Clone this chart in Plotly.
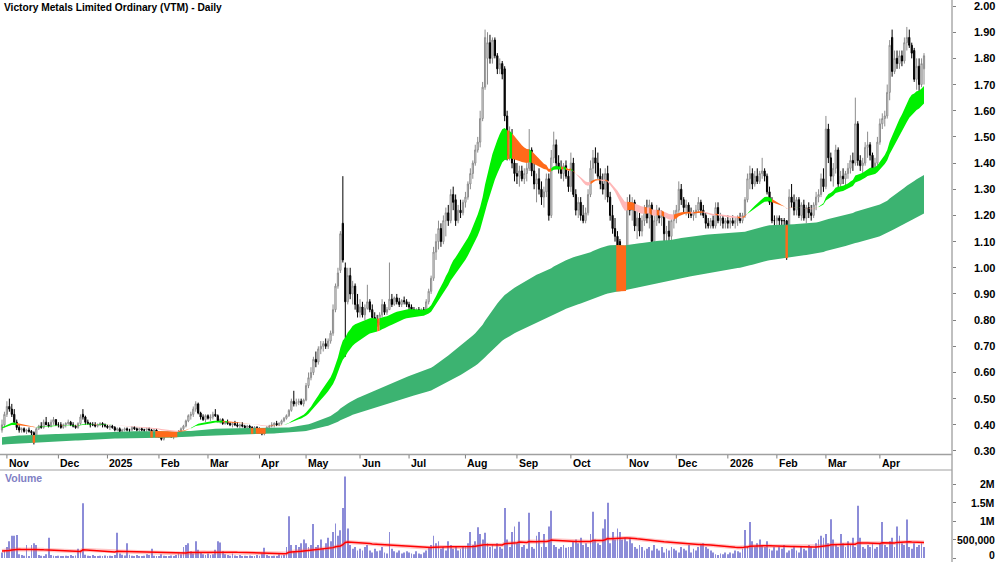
import numpy as np
import pandas as pd
import plotly.graph_objects as go

TITLE = "Victory Metals Limited Ordinary (VTM) - Daily"
START_DATE = "2024-10-30"
END_DATE = "2026-04-29"
ASX_HOLIDAYS = ["2024-12-25", "2024-12-26", "2025-01-01", "2025-01-27", "2025-04-18",
                "2025-04-21", "2025-04-25", "2025-06-09", "2025-12-25", "2025-12-26",
                "2026-01-01", "2026-01-26", "2026-04-03", "2026-04-06"]

OPEN = [
    .38, .40, .44, .47, .46, .44, .41, .39, .38, .385, .375, .38, .375, .37, .36, .385, .395, .39, .41, .40, .395, .41, .42,
    .40, .40, .39, .40, .405, .41, .40, .395, .39, .405, .44, .43, .41, .405, .40, .40, .395, .40, .405, .40,
    .395, .39, .395, .39, .38, .385, .375, .38, .385, .38, .38, .39, .385, .38, .385, .38, .38, .385, .38, .375, .38,
    .37, .355, .345, .36, .365, .36, .355, .36, .365, .375, .385, .395, .415, .435, .44, .46, .48, .445, .43, .42,
    .435, .425, .43, .44, .435, .415, .42, .405, .41, .405, .40, .405, .40, .395, .40, .395, .39, .395, .39, .385, .39,
    .385, .375, .365, .38, .39, .395, .40, .405, .40, .405, .415, .425, .435, .455, .49, .48, .485, .49, .48,
    .495, .55, .58, .60, .65, .64, .69, .70, .71, .70, .72, .75, .84, .93, .99, 1.17, 1.00, .87, .97, .90, .93, .86,
    .83, .85, .82, .845, .87, .84, .81, .80, .79, .82, .86, .83, .84, .88, .86, .885, .87, .86, .875, .87,
    .86, .85, .84, .83, .84, .83, .84, .835, .87, .91, .96, 1.06, 1.10, 1.15, 1.10, 1.18, 1.21, 1.18, 1.28, 1.26, 1.18, 1.22, 1.21,
    1.25, 1.27, 1.32, 1.36, 1.40, 1.45, 1.48, 1.57, 1.69, 1.80, 1.86, 1.80, 1.87, 1.81, 1.76, 1.78, 1.76, 1.58, 1.43, 1.50, 1.40,
    1.36, 1.35, 1.37, 1.34, 1.36, 1.38, 1.45, 1.37, 1.32, 1.34, 1.30, 1.27, 1.29, 1.34, 1.20, 1.42, 1.47, 1.40, 1.38, 1.36, 1.39, 1.35,
    1.31, 1.40, 1.28, 1.22, 1.25, 1.20, 1.18, 1.21, 1.28, 1.38, 1.42, 1.40, 1.35, 1.32, 1.30, 1.36, 1.27, 1.20, 1.15, 1.12, 1.10, 1.02, 1.00,
    1.05, 1.24, 1.22, 1.25, 1.16, 1.19, 1.14, 1.18, 1.22, 1.19, 1.24, 1.10, 1.18, 1.22, 1.19, 1.20, 1.13, 1.14, 1.12, 1.18,
    1.20, 1.22, 1.30, 1.26, 1.23, 1.24, 1.21, 1.20, 1.21, 1.22, 1.25, 1.22, 1.20, 1.17, 1.16, 1.18, 1.16, 1.23, 1.18, 1.19, 1.17,
    1.18, 1.17, 1.18, 1.17, 1.18, 1.19, 1.18, 1.20, 1.26, 1.34, 1.36, 1.32, 1.35, 1.33, 1.36, 1.37, 1.35, 1.29, 1.25, 1.18,
    1.18, 1.19, 1.18, 1.18, 1.18, 1.11, 1.27, 1.25, 1.22, 1.26, 1.20, 1.24, 1.19, 1.23, 1.21, 1.20, 1.24, 1.27, 1.28, 1.34,
    1.31, 1.53, 1.42, 1.35, 1.38, 1.45, 1.32, 1.35, 1.34, 1.36, 1.38, 1.41, 1.40, 1.55, 1.41, 1.39, 1.40, 1.46, 1.47, 1.43, 1.38, 1.40,
    1.48, 1.55, 1.57, 1.58, 1.67, 1.88, 1.75, 1.80, 1.78, 1.81, 1.79, 1.86, 1.88, 1.85, 1.83, 1.72, 1.77, 1.70, 1.76,
]
HIGH = [
    .42, .45, .49, .50, .48, .46, .42, .40, .39, .39, .385, .39, .38, .375, .39, .40, .41, .42, .43, .41, .42, .43, .42,
    .41, .41, .405, .41, .42, .415, .41, .40, .41, .44, .46, .435, .42, .41, .41, .41, .405, .41, .41, .405,
    .40, .40, .40, .395, .39, .39, .385, .39, .39, .385, .395, .395, .39, .39, .39, .385, .39, .39, .385, .385, .385,
    .37, .36, .365, .37, .37, .37, .365, .37, .38, .39, .40, .42, .44, .45, .47, .49, .485, .45, .44, .44,
    .44, .44, .45, .46, .44, .425, .425, .415, .42, .41, .41, .415, .41, .405, .41, .40, .40, .40, .395, .395, .395,
    .39, .38, .385, .395, .40, .41, .41, .415, .41, .42, .43, .44, .46, .50, .53, .50, .50, .50, .50,
    .56, .60, .62, .66, .68, .70, .72, .72, .73, .73, .76, .86, .94, 1.00, 1.14, 1.35, 1.02, 1.00, 1.00, .95, .94, .90,
    .88, .87, .86, .935, .88, .86, .83, .82, .83, .88, .87, .85, 1.02, .90, .89, .90, .885, .88, .89, .88,
    .87, .86, .85, .845, .85, .845, .85, .88, .92, .97, 1.08, 1.13, 1.18, 1.17, 1.20, 1.23, 1.24, 1.30, 1.31, 1.28, 1.24, 1.26, 1.26,
    1.29, 1.33, 1.38, 1.41, 1.47, 1.50, 1.60, 1.71, 1.91, 1.90, 1.89, 1.88, 1.88, 1.82, 1.80, 1.79, 1.77, 1.60, 1.54, 1.53, 1.42,
    1.40, 1.39, 1.39, 1.38, 1.40, 1.53, 1.46, 1.40, 1.36, 1.38, 1.33, 1.31, 1.36, 1.36, 1.45, 1.52, 1.49, 1.43, 1.41, 1.40, 1.41, 1.37,
    1.44, 1.42, 1.30, 1.27, 1.27, 1.24, 1.23, 1.30, 1.41, 1.45, 1.46, 1.44, 1.38, 1.36, 1.38, 1.39, 1.29, 1.24, 1.19, 1.14, 1.11, 1.06, 1.08,
    1.27, 1.28, 1.27, 1.26, 1.22, 1.21, 1.20, 1.24, 1.26, 1.26, 1.25, 1.20, 1.24, 1.23, 1.22, 1.21, 1.16, 1.18, 1.20, 1.22,
    1.24, 1.33, 1.32, 1.27, 1.26, 1.25, 1.23, 1.22, 1.24, 1.27, 1.26, 1.24, 1.21, 1.19, 1.19, 1.20, 1.25, 1.25, 1.21, 1.20, 1.19,
    1.20, 1.19, 1.20, 1.19, 1.20, 1.21, 1.21, 1.27, 1.36, 1.39, 1.38, 1.37, 1.38, 1.37, 1.42, 1.38, 1.36, 1.31, 1.27, 1.20,
    1.20, 1.20, 1.19, 1.19, 1.18, 1.30, 1.32, 1.28, 1.27, 1.27, 1.25, 1.26, 1.24, 1.25, 1.24, 1.25, 1.29, 1.30, 1.36, 1.38,
    1.58, 1.55, 1.44, 1.40, 1.47, 1.46, 1.37, 1.38, 1.37, 1.40, 1.43, 1.44, 1.65, 1.56, 1.43, 1.42, 1.48, 1.52, 1.48, 1.44, 1.42, 1.50,
    1.57, 1.59, 1.60, 1.70, 1.87, 1.91, 1.83, 1.83, 1.83, 1.83, 1.88, 1.92, 1.91, 1.86, 1.84, 1.80, 1.80, 1.80, 1.82,
]
LOW = [
    .37, .39, .43, .45, .43, .40, .38, .37, .37, .37, .365, .37, .36, .325, .335, .38, .385, .385, .40, .39, .39, .40, .395,
    .39, .385, .385, .39, .40, .395, .39, .385, .385, .40, .42, .40, .40, .39, .395, .39, .39, .395, .39, .39,
    .385, .38, .385, .375, .375, .37, .37, .375, .375, .37, .375, .38, .375, .37, .375, .37, .37, .375, .37, .37, .37,
    .35, .34, .34, .355, .355, .35, .345, .355, .36, .37, .38, .39, .41, .42, .43, .45, .44, .42, .415, .41,
    .42, .415, .42, .43, .41, .405, .40, .40, .40, .395, .39, .395, .39, .385, .39, .385, .385, .385, .38, .375, .38,
    .37, .36, .36, .375, .385, .39, .39, .395, .395, .40, .41, .42, .43, .45, .47, .47, .475, .475, .47,
    .49, .54, .57, .59, .62, .63, .67, .68, .69, .69, .71, .74, .83, .92, .98, 1.02, .66, .86, .88, .86, .84, .81,
    .81, .81, .80, .84, .83, .80, .78, .775, .78, .81, .82, .82, .84, .85, .855, .86, .85, .85, .86, .85,
    .84, .83, .82, .82, .825, .82, .82, .83, .86, .90, .95, 1.03, 1.07, 1.08, 1.09, 1.12, 1.16, 1.17, 1.22, 1.16, 1.17, 1.19, 1.20,
    1.23, 1.26, 1.30, 1.34, 1.39, 1.44, 1.46, 1.56, 1.68, 1.70, 1.78, 1.78, 1.80, 1.74, 1.74, 1.72, 1.56, 1.41, 1.41, 1.38, 1.33,
    1.32, 1.31, 1.33, 1.32, 1.33, 1.37, 1.35, 1.30, 1.25, 1.28, 1.24, 1.23, 1.27, 1.18, 1.19, 1.40, 1.38, 1.36, 1.34, 1.33, 1.34, 1.29,
    1.29, 1.27, 1.20, 1.19, 1.18, 1.17, 1.17, 1.20, 1.27, 1.33, 1.36, 1.34, 1.30, 1.28, 1.26, 1.25, 1.18, 1.13, 1.10, 1.05, 1.00, .98, .99,
    1.04, 1.20, 1.18, 1.14, 1.11, 1.12, 1.12, 1.16, 1.17, 1.15, 1.06, 1.08, 1.16, 1.17, 1.16, 1.10, 1.07, 1.08, 1.09, 1.15,
    1.17, 1.21, 1.24, 1.21, 1.20, 1.19, 1.19, 1.18, 1.19, 1.21, 1.20, 1.19, 1.15, 1.15, 1.15, 1.15, 1.15, 1.17, 1.16, 1.15, 1.15,
    1.15, 1.15, 1.16, 1.15, 1.16, 1.17, 1.17, 1.19, 1.25, 1.30, 1.30, 1.31, 1.32, 1.32, 1.34, 1.33, 1.28, 1.24, 1.17, 1.14,
    1.15, 1.16, 1.15, 1.12, 1.03, 1.10, 1.23, 1.20, 1.20, 1.19, 1.18, 1.18, 1.17, 1.19, 1.18, 1.19, 1.22, 1.25, 1.27, 1.29,
    1.30, 1.40, 1.33, 1.31, 1.36, 1.30, 1.30, 1.32, 1.31, 1.34, 1.36, 1.37, 1.39, 1.39, 1.37, 1.36, 1.39, 1.42, 1.41, 1.37, 1.36, 1.39,
    1.47, 1.53, 1.54, 1.57, 1.64, 1.73, 1.74, 1.76, 1.76, 1.77, 1.78, 1.83, 1.84, 1.80, 1.71, 1.68, 1.67, 1.69, 1.70,
]
CLOSE = [
    .40, .44, .47, .46, .44, .41, .39, .38, .385, .375, .38, .375, .37, .36, .385, .395, .39, .41, .40, .395, .41, .42, .40,
    .40, .39, .40, .405, .41, .40, .395, .39, .405, .43, .43, .41, .405, .40, .40, .395, .40, .405, .40, .395,
    .39, .395, .39, .38, .385, .375, .38, .385, .38, .38, .39, .385, .38, .385, .38, .38, .385, .38, .375, .38, .375,
    .355, .345, .36, .365, .36, .355, .36, .365, .375, .385, .395, .415, .435, .44, .46, .48, .445, .43, .42, .435,
    .425, .43, .44, .435, .415, .42, .405, .41, .405, .40, .405, .40, .395, .40, .395, .39, .395, .39, .385, .39, .385,
    .375, .365, .38, .39, .395, .40, .405, .40, .405, .415, .425, .435, .455, .49, .48, .485, .49, .48, .495,
    .55, .58, .60, .65, .64, .69, .70, .71, .70, .72, .75, .84, .93, .98, 1.13, 1.03, .87, .97, .90, .93, .86, .83,
    .85, .82, .845, .87, .84, .81, .80, .79, .82, .86, .83, .84, .88, .86, .885, .87, .86, .875, .87, .86,
    .85, .84, .83, .84, .83, .84, .835, .87, .91, .96, 1.06, 1.10, 1.15, 1.10, 1.18, 1.21, 1.18, 1.28, 1.25, 1.18, 1.22, 1.21, 1.25,
    1.27, 1.32, 1.36, 1.40, 1.45, 1.48, 1.57, 1.69, 1.88, 1.86, 1.80, 1.87, 1.81, 1.76, 1.78, 1.74, 1.58, 1.43, 1.50, 1.40, 1.36,
    1.35, 1.37, 1.34, 1.36, 1.38, 1.45, 1.37, 1.32, 1.34, 1.30, 1.27, 1.29, 1.34, 1.20, 1.42, 1.47, 1.40, 1.38, 1.36, 1.39, 1.35, 1.31,
    1.40, 1.28, 1.22, 1.25, 1.20, 1.18, 1.21, 1.28, 1.38, 1.42, 1.40, 1.35, 1.32, 1.30, 1.36, 1.27, 1.20, 1.15, 1.12, 1.08, 1.02, 1.00, 1.05,
    1.24, 1.22, 1.25, 1.16, 1.19, 1.14, 1.18, 1.22, 1.19, 1.24, 1.10, 1.18, 1.22, 1.19, 1.20, 1.13, 1.14, 1.12, 1.18, 1.20,
    1.22, 1.30, 1.26, 1.23, 1.24, 1.21, 1.20, 1.21, 1.22, 1.25, 1.22, 1.20, 1.17, 1.16, 1.18, 1.16, 1.23, 1.18, 1.19, 1.17, 1.18,
    1.17, 1.18, 1.17, 1.18, 1.19, 1.18, 1.20, 1.26, 1.34, 1.36, 1.32, 1.35, 1.33, 1.36, 1.37, 1.35, 1.29, 1.25, 1.18, 1.18,
    1.19, 1.18, 1.18, 1.18, 1.11, 1.27, 1.25, 1.22, 1.26, 1.20, 1.24, 1.19, 1.23, 1.21, 1.20, 1.24, 1.27, 1.28, 1.34, 1.31,
    1.53, 1.42, 1.35, 1.38, 1.45, 1.32, 1.35, 1.34, 1.36, 1.38, 1.41, 1.40, 1.55, 1.41, 1.39, 1.40, 1.46, 1.47, 1.43, 1.38, 1.40, 1.48,
    1.55, 1.57, 1.58, 1.67, 1.85, 1.75, 1.80, 1.78, 1.81, 1.79, 1.86, 1.88, 1.85, 1.82, 1.72, 1.77, 1.70, 1.78, 1.81,
]
VOLUME_K = [
    150, 200, 300, 450, 600, 600, 620, 100, 80, 60, 350, 50, 350, 400, 350, 80, 60, 50, 100, 550, 80, 60, 50,
    60, 40, 30, 60, 50, 80, 40, 70, 250, 200, 1480, 90, 60, 40, 80, 50, 30, 60, 40, 70,
    50, 60, 40, 80, 680, 120, 90, 70, 400, 90, 60, 40, 80, 50, 30, 60, 100, 80, 250, 60, 40,
    40, 100, 60, 30, 50, 70, 40, 80, 120, 100, 300, 350, 400, 180, 120, 450, 220, 150, 100, 80,
    120, 80, 100, 220, 450, 420, 180, 100, 80, 60, 120, 70, 50, 80, 40, 60, 30, 70, 50, 40, 80,
    60, 120, 280, 80, 40, 30, 60, 50, 100, 70, 80, 300, 1130, 350, 180, 350, 300, 400, 500,
    400, 300, 350, 920, 300, 350, 500, 250, 400, 550, 450, 700, 930, 600, 750, 1350, 2200, 800, 350, 250, 300, 200,
    250, 200, 300, 350, 200, 150, 250, 180, 200, 300, 150, 120, 700, 250, 180, 150, 200, 120, 150, 180,
    150, 120, 100, 180, 120, 100, 150, 200, 300, 350, 600, 400, 450, 250, 300, 200, 450, 350, 250, 300, 200, 250, 300,
    300, 400, 700, 350, 450, 830, 650, 500, 680, 400, 300, 350, 250, 400, 300, 250, 1350, 500, 300, 700, 850,
    400, 980, 300, 350, 250, 1220, 300, 250, 600, 700, 300, 650, 300, 850, 1280, 350, 300, 250, 300, 350, 280, 300,
    300, 450, 500, 400, 550, 350, 400, 300, 650, 1250, 500, 400, 350, 800, 1050, 1490, 400, 700, 500, 800, 700, 500, 550,
    450, 550, 400, 300, 250, 350, 300, 200, 250, 300, 200, 350, 250, 200, 300, 150, 250, 200, 300, 250,
    200, 150, 300, 250, 200, 350, 150, 250, 200, 300, 350, 400, 300, 250, 200, 150, 100, 80, 120, 100, 150,
    100, 150, 120, 200, 180, 150, 250, 760, 300, 970, 450, 300, 400, 500, 350, 300, 450, 250, 200, 300,
    200, 300, 250, 350, 150, 200, 250, 300, 200, 150, 300, 250, 200, 350, 300, 250, 400, 500, 600, 550,
    650, 400, 1050, 500, 350, 300, 650, 400, 300, 450, 350, 550, 300, 1410, 550, 300, 250, 350, 300, 400, 250, 300,
    400, 970, 350, 300, 450, 550, 300, 850, 600, 400, 350, 1040, 300, 250, 400, 300, 350, 400, 300,
]

PRICE_TICKS = [0.30, 0.40, 0.50, 0.60, 0.70, 0.80, 0.90, 1.00, 1.10, 1.20, 1.30,
               1.40, 1.50, 1.60, 1.70, 1.80, 1.90, 2.00]
VOLUME_TICKS = [0, 500000, 1000000, 1500000, 2000000]
VOLUME_TICK_TEXT = ["0", "500,000", "1M", "1.5M", "2M"]

# indicator settings (periods and starting values of the averages)
SHORT_FAST, SHORT_SLOW = 24, 36
LONG_FAST, LONG_SLOW = 150, 250
SEED_SHORT_FAST, SEED_SHORT_SLOW = 0.39, 0.385
SEED_LONG_FAST, SEED_LONG_SLOW = 0.352, 0.323
VOL_SPAN, VOL_SEED = 60, 190000
SLOPE_TOL = 0.0015   # relative per-bar fall of the fast average that counts as "falling"

# ---------------------------------------------------------------------------
W, H = 1000, 562
PLOT_RIGHT = 952
FONT = "Liberation Sans, Arial, sans-serif"
GREEN = "#00f000"
ORANGE = "#ff6a1a"
PINK = "#ffb8b8"
LONG_GREEN = "#3cb371"


def py(px):
    return 1 - px / H


n = len(CLOSE)
for name, arr in (("OPEN", OPEN), ("HIGH", HIGH), ("LOW", LOW), ("VOLUME_K", VOLUME_K)):
    if len(arr) != n:
        raise ValueError(f"{name} has {len(arr)} values, expected {n}")
dates = pd.bdate_range(START_DATE, END_DATE, freq="C", holidays=ASX_HOLIDAYS)[:n]
idx = np.arange(n)
o = np.array(OPEN); c = np.array(CLOSE)
h = np.maximum(np.maximum(np.array(HIGH), o), c)
l = np.minimum(np.minimum(np.array(LOW), o), c)
vol = np.array(VOLUME_K) * 1000.0


def ema(values, span, seed):
    a = 2.0 / (span + 1)
    e = seed
    out = []
    for v in values:
        e = e + a * (v - e)
        out.append(e)
    return np.array(out)


sf = ema(c, SHORT_FAST, SEED_SHORT_FAST)
ss = ema(c, SHORT_SLOW, SEED_SHORT_SLOW)
lf = ema(c, LONG_FAST, SEED_LONG_FAST)
ls = ema(c, LONG_SLOW, SEED_LONG_SLOW)
vma = ema(vol, VOL_SPAN, VOL_SEED)

fig = go.Figure()


def poly(xs, top, bot, color):
    xx = list(xs) + list(xs[::-1])
    yy = list(top) + list(bot[::-1])
    return go.Scatter(x=xx, y=yy, fill="toself", fillcolor=color, mode="lines",
                      line=dict(width=0, color=color), hoverinfo="skip",
                      showlegend=False, xaxis="x", yaxis="y")


# long-term ribbon
fig.add_trace(poly(idx, lf, ls, LONG_GREEN))
below = c < lf
i = 0
while i < n:
    if below[i]:
        j = i
        while j + 1 < n and below[j + 1]:
            j += 1
        xs = np.array([i - 0.5] + list(range(i, j + 1)) + [j + 0.5])
        top = np.array([lf[i]] + list(lf[i:j + 1]) + [lf[j]])
        bot = np.array([ls[i]] + list(ls[i:j + 1]) + [ls[j]])
        fig.add_trace(poly(xs, top, bot, ORANGE))
        i = j + 1
    else:
        i += 1

# short-term ribbon: colour by position and direction of the fast average
cols = []
for k in range(n):
    falling = k > 0 and (sf[k - 1] - sf[k]) > SLOPE_TOL * sf[k - 1]
    if sf[k] >= ss[k]:
        cols.append(ORANGE if falling else GREEN)
    else:
        cols.append(PINK if (k > 0 and sf[k] < sf[k - 1]) else ORANGE)
s = 0
for k in range(1, n + 1):
    if k == n or cols[k] != cols[s]:
        e = min(k, n - 1)
        fig.add_trace(poly(idx[s:e + 1], sf[s:e + 1], ss[s:e + 1], cols[s]))
        s = k

# candles
fig.add_trace(go.Candlestick(
    x=idx, open=o, high=h, low=l, close=c,
    increasing=dict(line=dict(color="#8c8c8c", width=1), fillcolor="white"),
    decreasing=dict(line=dict(color="black", width=1), fillcolor="black"),
    whiskerwidth=0, hoverinfo="skip", showlegend=False, xaxis="x", yaxis="y"))

# volume
fig.add_trace(go.Bar(x=idx, y=vol, width=0.35, marker=dict(color="#8c8cd8", line=dict(width=0)),
                     hoverinfo="skip", showlegend=False, xaxis="x2", yaxis="y2"))
fig.add_trace(go.Scatter(x=idx, y=vma, mode="lines", line=dict(color="rgba(255,90,90,0.35)", width=4),
                         hoverinfo="skip", showlegend=False, xaxis="x2", yaxis="y2"))
fig.add_trace(go.Scatter(x=idx, y=vma, mode="lines", line=dict(color="#ff0000", width=1.5),
                         hoverinfo="skip", showlegend=False, xaxis="x2", yaxis="y2"))

px_per_bar = (924 - 2) / (n - 1)
xr = [-2 / px_per_bar, (n - 1) + (PLOT_RIGHT - 924) / px_per_bar]
dom = [0, PLOT_RIGHT / W]

axis_common = dict(showgrid=False, zeroline=False, showline=False)
fig.update_layout(
    width=W, height=H, margin=dict(l=0, r=0, t=0, b=0),
    paper_bgcolor="white", plot_bgcolor="white", showlegend=False,
    font=dict(family=FONT),
    xaxis=dict(domain=dom, range=xr, showticklabels=False, ticks="", anchor="y",
               rangeslider=dict(visible=False), **axis_common),
    yaxis=dict(domain=[py(454), 1], range=[0.2885, 2.023], side="right", anchor="x",
               tickvals=PRICE_TICKS, showticklabels=False, ticks="outside", ticklen=3,
               tickcolor="#808080", **axis_common),
    xaxis2=dict(domain=dom, range=xr, matches="x", showticklabels=False, ticks="",
                anchor="y2", **axis_common),
    yaxis2=dict(domain=[0, py(470)], range=[-108108, 2378378], side="right", anchor="x2",
                tickvals=VOLUME_TICKS, showticklabels=False, ticks="outside", ticklen=3,
                tickcolor="#808080", **axis_common),
)

shapes = [
    dict(type="line", xref="paper", yref="paper", x0=PLOT_RIGHT / W, x1=PLOT_RIGHT / W, y0=0, y1=1,
         line=dict(color="#808080", width=1)),
    dict(type="line", xref="paper", yref="paper", x0=0, x1=PLOT_RIGHT / W, y0=py(454.5), y1=py(454.5),
         line=dict(color="#a0a0a0", width=1.5)),
    dict(type="line", xref="paper", yref="paper", x0=0, x1=PLOT_RIGHT / W, y0=py(470), y1=py(470),
         line=dict(color="#a0a0a0", width=1)),
]
annotations = []
month_starts = [k for k in range(1, n) if dates[k].month != dates[k - 1].month]
for k in month_starts:
    d = dates[k]
    label = str(d.year) if d.month == 1 else d.strftime("%b")
    shapes.append(dict(type="line", xref="x", yref="paper", x0=k, x1=k, y0=py(455), y1=py(458.5),
                       line=dict(color="#808080", width=1)))
    annotations.append(dict(x=k, xref="x", y=py(462.5), yref="paper", text=label, showarrow=False,
                            xanchor="left", yanchor="middle",
                            font=dict(family=FONT, size=10.5, color="black", weight="bold")))

for t in PRICE_TICKS:
    annotations.append(dict(x=0.997, xref="paper", y=t, yref="y", text=f"{t:.2f}", showarrow=False,
                            xanchor="right", yanchor="middle",
                            font=dict(family=FONT, size=11, color="black", weight="bold")))
for t, txt in zip(VOLUME_TICKS, VOLUME_TICK_TEXT):
    annotations.append(dict(x=0.997, xref="paper", y=t, yref="y2", text=txt, showarrow=False,
                            xanchor="right", yanchor="middle", yshift=3 if t == 0 else 0,
                            font=dict(family=FONT, size=10.5, color="black", weight="bold")))

annotations.append(dict(x=0.002, xref="paper", y=py(8), yref="paper", text=TITLE, showarrow=False,
                        xanchor="left", yanchor="middle",
                        font=dict(family=FONT, size=10.2, color="black", weight="bold")))
annotations.append(dict(x=0.003, xref="paper", y=py(478), yref="paper", text="Volume", showarrow=False,
                        xanchor="left", yanchor="middle",
                        font=dict(family=FONT, size=10.5, color="#8080c4", weight="bold")))

fig.update_layout(shapes=shapes, annotations=annotations)
fig.write_html("out.html")
